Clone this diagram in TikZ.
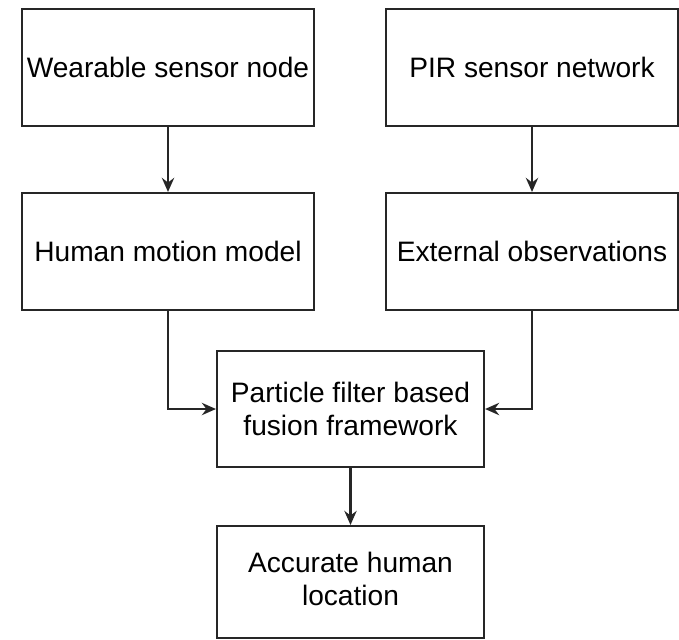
\documentclass[tikz,border=0pt]{standalone}
\usepackage{fontspec}
\setmainfont{Liberation Sans}
\usetikzlibrary{arrows.meta}

\tikzset{
  block/.style={draw=black!85, line width=1.2pt, fill=white, align=center,
    minimum width=5.84cm, minimum height=2.34cm, inner sep=2pt,
    font=\fontsize{16}{19}\selectfont},
  smallblock/.style={block, minimum width=5.34cm, minimum height=2.32cm},
  arr/.style={draw=black!85, line width=1.2pt, -{Stealth[length=8pt,width=7pt]}}
}

\begin{document}
\begin{tikzpicture}

\useasboundingbox (0,0) rectangle (13.58,-12.78);

\node[block] (wearable) at (3.36,-1.35) {Wearable sensor node};
\node[block] (motion) at (3.36,-5.03) {Human motion model};
\node[block] (pir) at (10.64,-1.35) {PIR sensor network};
\node[block] (extobs) at (10.64,-5.03) {External observations};

\node[smallblock] (fusion) at (7.01,-8.18) {Particle filter based\\fusion framework};
\node[smallblock, minimum height=2.24cm] (location) at (7.01,-11.64)
  {\raisebox{-7pt}{\begin{tabular}{@{}c@{}}Accurate human\\location\end{tabular}}};

\draw[arr] (wearable) -- (motion);
\draw[arr] (pir) -- (extobs);
\draw[arr] (motion.south) |- (fusion.west);
\draw[arr] (extobs.south) |- (fusion.east);
\draw[arr] (fusion) -- (location);

\end{tikzpicture}
\end{document}
